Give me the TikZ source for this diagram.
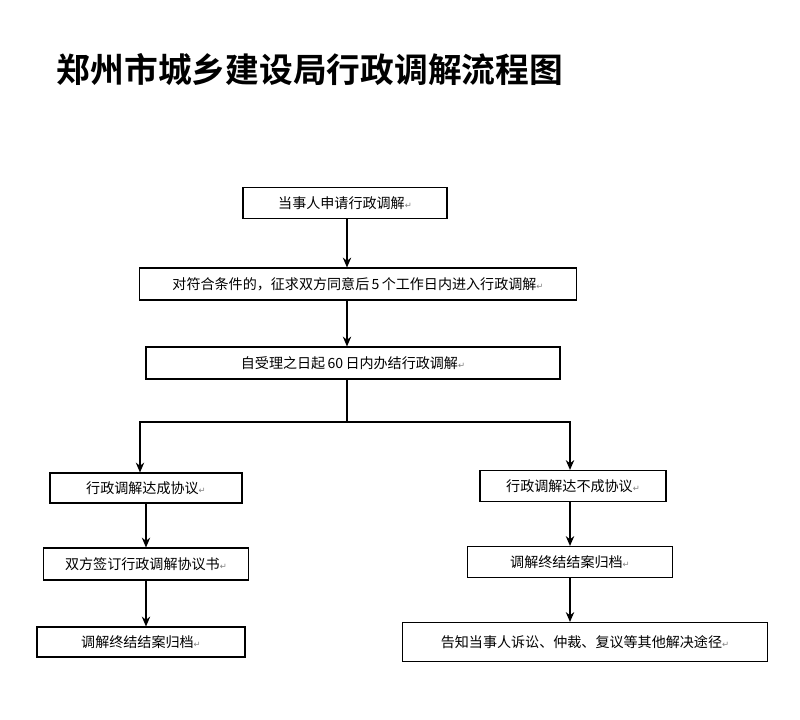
\documentclass[tikz,border=0pt]{standalone}
\usepackage{fontspec}
\usetikzlibrary{arrows.meta}
\newfontfamily\cjk{Noto Sans CJK SC}
\newfontfamily\cjkbold{Noto Sans CJK SC Bold}
\newfontfamily\symb{DejaVu Sans}
\newcommand{\ret}{{\symb\fontsize{6pt}{6pt}\selectfont\color{gray}↵}}
\begin{document}
\begin{tikzpicture}[x=0.025cm,y=-0.025cm,
  stepbox/.style={draw,line width=0.8pt,inner sep=0pt,font=\cjk\fontsize{10pt}{12pt}\selectfont},
  flow/.style={-{Stealth[length=7pt,width=6pt]},line width=0.8pt}]
\useasboundingbox (0,0) rectangle (800,720);
\node[anchor=west,font=\cjkbold\fontsize{24pt}{28pt}\selectfont] (title) at (52,70) {郑州市城乡建设局行政调解流程图};
% main line
\node[stepbox,minimum width=204*0.025cm,minimum height=31*0.025cm] (apply) at (345,203) {当事人申请行政调解\ret};
\node[stepbox,minimum width=437*0.025cm,minimum height=32*0.025cm] (accept) at (358,284) {对符合条件的，征求双方同意后\,5\,个工作日内进入行政调解\ret};
\node[stepbox,minimum width=414*0.025cm,minimum height=32*0.025cm] (limit) at (353,363) {自受理之日起\,60\,日内办结行政调解\ret};
% left branch
\node[stepbox,minimum width=192*0.025cm,minimum height=30*0.025cm] (agree) at (146,488) {行政调解达成协议\ret};
\node[stepbox,minimum width=205*0.025cm,minimum height=32*0.025cm] (sign) at (146,564) {双方签订行政调解协议书\ret};
\node[stepbox,minimum width=208*0.025cm,minimum height=30*0.025cm] (fileL) at (141,642) {调解终结结案归档\ret};
% right branch
\node[stepbox,minimum width=186*0.025cm,minimum height=31*0.025cm] (fail) at (573,486) {行政调解达不成协议\ret};
\node[stepbox,minimum width=205*0.025cm,minimum height=31*0.025cm] (fileR) at (570,562) {调解终结结案归档\ret};
\node[stepbox,minimum width=365*0.025cm,minimum height=39*0.025cm] (inform) at (585,642) {告知当事人诉讼、仲裁、复议等其他解决途径\ret};
\coordinate (split) at (347,422);
\draw[flow] (apply.south -| split) -- (accept.north -| split);
\draw[flow] (accept.south -| split) -- (limit.north -| split);
\draw[line width=0.8pt] (limit.south -| split) -- (split);
\draw[flow] (split) -| (agree.north -| 140,0);
\draw[flow] (split) -| (fail.north -| 570,0);
\draw[flow] (agree.south -| 146,0) -- (sign.north -| 146,0);
\draw[flow] (sign.south -| 146,0) -- (fileL.north -| 146,0);
\draw[flow] (fail.south -| 570,0) -- (fileR.north -| 570,0);
\draw[flow] (fileR.south -| 570,0) -- (inform.north -| 570,0);
\end{tikzpicture}
\end{document}
